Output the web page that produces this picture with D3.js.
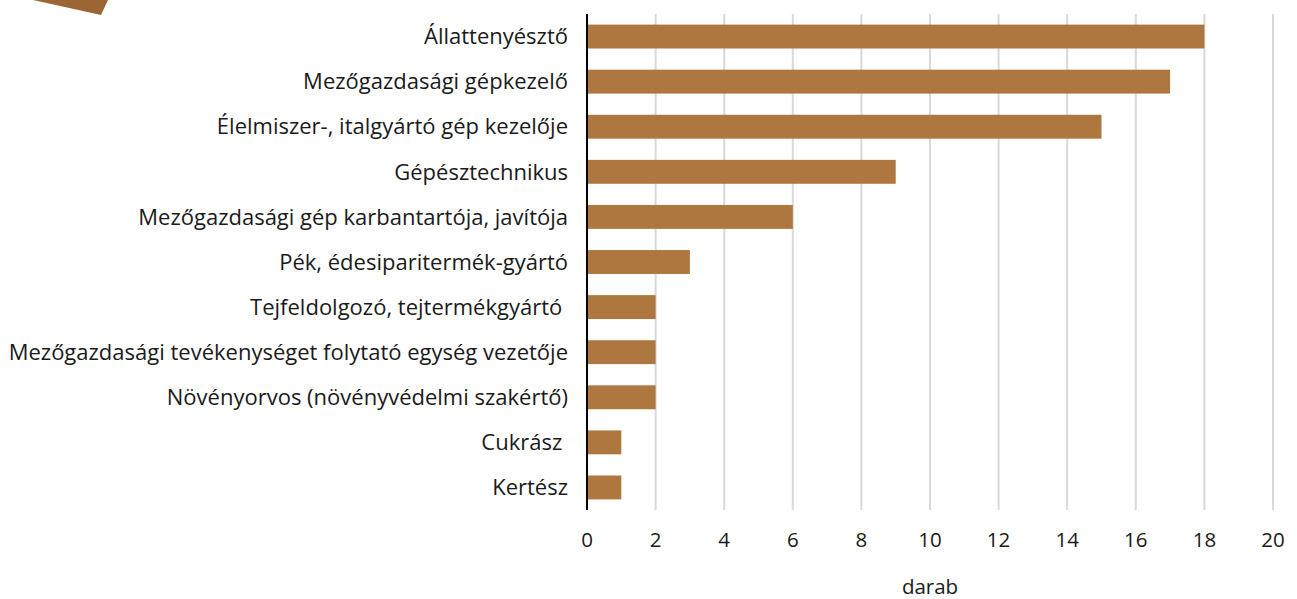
<!DOCTYPE html>
<html>
<head>
<meta charset="utf-8">
<script src="https://cdn.jsdelivr.net/npm/d3@7"></script>
<style>
  body { margin: 0; background: #fff; }
  text { font-family: "Open Sans", "Noto Sans", sans-serif; fill: #1a1a1a; }
</style>
</head>
<body>
<div id="chart"></div>
<script>
// adatok
var categories = [
  "Állattenyésztő",
  "Mezőgazdasági gépkezelő",
  "Élelmiszer-, italgyártó gép kezelője",
  "Gépésztechnikus",
  "Mezőgazdasági gép karbantartója, javítója",
  "Pék, édesiparitermék-gyártó",
  "Tejfeldolgozó, tejtermékgyártó ",
  "Mezőgazdasági tevékenységet folytató egység vezetője",
  "Növényorvos (növényvédelmi szakértő)",
  "Cukrász ",
  "Kertész"
];
var values = [18, 17, 15, 9, 6, 3, 2, 2, 2, 1, 1];
var ticks = [0, 2, 4, 6, 8, 10, 12, 14, 16, 18, 20];
var axisTitle = "darab";

var W = 1297, H = 599;
var margin = {top: 14, right: 24, bottom: 89, left: 587};

var svg = d3.select("#chart").append("svg")
  .attr("width", W).attr("height", H);

// dísz a bal felső sarokban
svg.append("polygon")
  .attr("points", "33,0 108,0 101,15")
  .attr("fill", "#9b6633");

var x = d3.scaleLinear().domain([0, 20]).range([margin.left, W - margin.right]);
var y = d3.scaleBand().domain(categories)
  .range([margin.top, H - margin.bottom])
  .paddingInner(0.47).paddingOuter(0.235);

// rácsvonalak
svg.selectAll("line.grid").data(ticks.slice(1)).enter().append("line")
  .attr("class", "grid")
  .attr("x1", function(d) { return x(d); })
  .attr("x2", function(d) { return x(d); })
  .attr("y1", margin.top).attr("y2", H - margin.bottom)
  .attr("stroke", "#d9d9d9").attr("stroke-width", 2);

// oszlopok
svg.selectAll("rect.bar").data(values).enter().append("rect")
  .attr("class", "bar")
  .attr("x", x(0))
  .attr("y", function(d, i) { return y(categories[i]); })
  .attr("width", function(d) { return x(d) - x(0); })
  .attr("height", y.bandwidth())
  .attr("fill", "#ad773f");

// függőleges tengely
svg.append("line")
  .attr("x1", x(0)).attr("x2", x(0))
  .attr("y1", margin.top).attr("y2", H - margin.bottom)
  .attr("stroke", "#000").attr("stroke-width", 2);

// kategória feliratok
svg.selectAll("text.cat").data(categories).enter().append("text")
  .attr("class", "cat")
  .attr("x", x(0) - 19)
  .attr("y", function(d) { return y(d) + y.bandwidth() / 2; })
  .attr("dy", "0.35em")
  .attr("text-anchor", "end")
  .style("white-space", "pre")
  .attr("font-size", 22)
  .text(function(d) { return d; });

// x tengely feliratok
svg.selectAll("text.tick").data(ticks).enter().append("text")
  .attr("class", "tick")
  .attr("x", function(d) { return x(d); })
  .attr("y", 547)
  .attr("text-anchor", "middle")
  .attr("font-size", 20.5)
  .text(function(d) { return d; });

svg.append("text")
  .attr("x", (x(0) + x(20)) / 2)
  .attr("y", 594)
  .attr("text-anchor", "middle")
  .attr("font-size", 20.5)
  .text(axisTitle);
</script>
</body>
</html>
